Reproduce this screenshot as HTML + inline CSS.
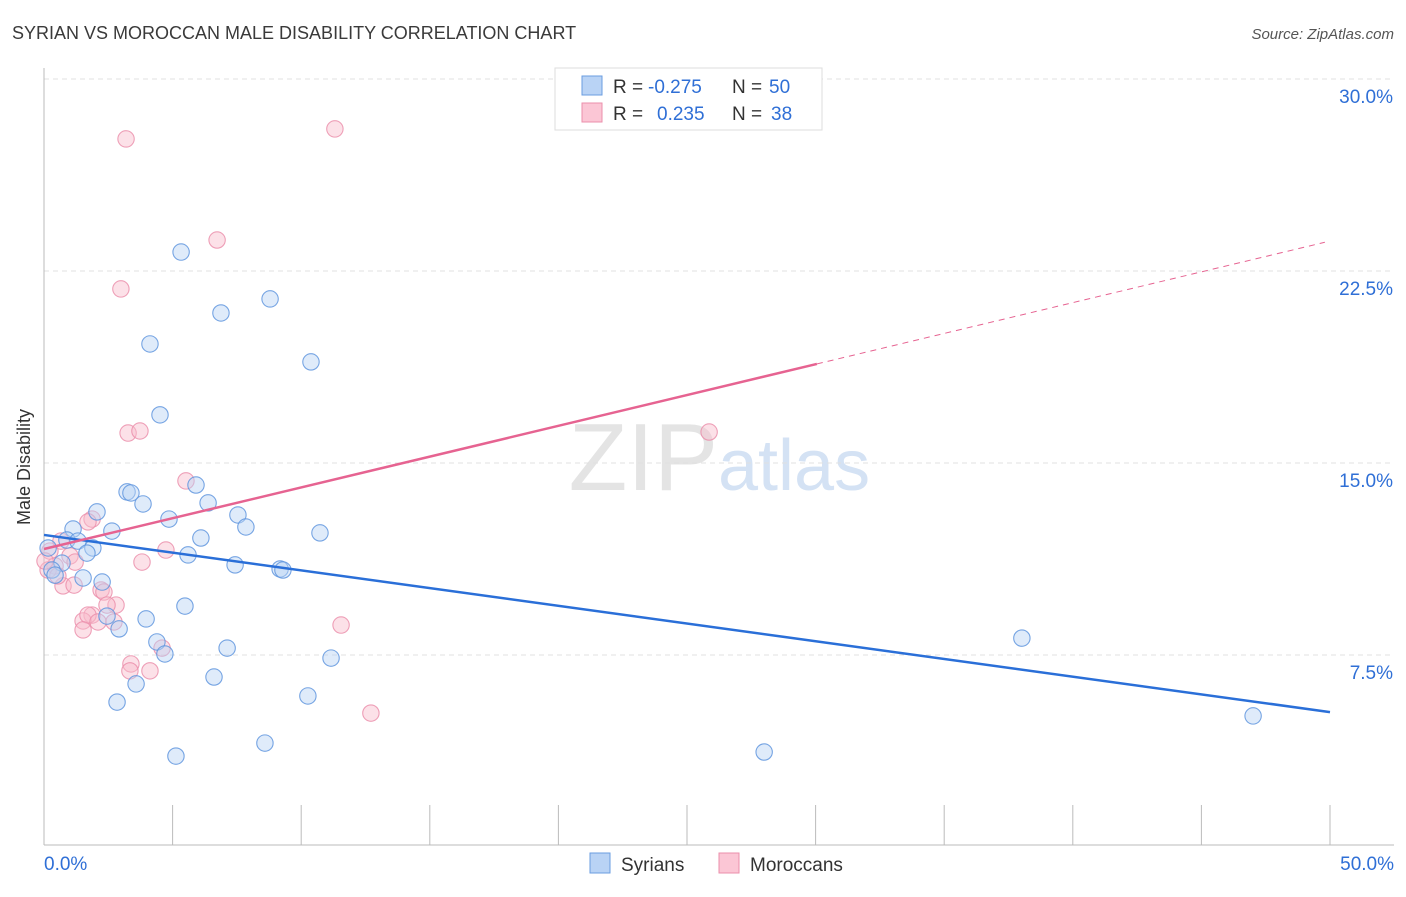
<!DOCTYPE html>
<html><head><meta charset="utf-8"><style>
body{margin:0;background:#fff;font-family:"Liberation Sans",sans-serif;}
svg text{font-family:"Liberation Sans",sans-serif;}
</style></head><body>
<svg width="1406" height="892" viewBox="0 0 1406 892" xmlns="http://www.w3.org/2000/svg">
<text x="12" y="39" font-size="18" fill="#3a3a3a">SYRIAN VS MOROCCAN MALE DISABILITY CORRELATION CHART</text>
<text x="1394" y="39" font-size="15" fill="#555" font-style="italic" text-anchor="end">Source: ZipAtlas.com</text>
<text x="718" y="490" font-size="96" fill="#e4e4e4" text-anchor="end" font-family="Liberation Serif">ZIP</text>
<text x="718" y="490" font-size="72" fill="#d4e2f4">atlas</text>
<g id="grid"></g>
<g id="axes"></g>
<g id="pts"></g>
<g id="trend"></g>
<text x="18" y="455" font-size="18" fill="#333" transform="rotate(-90 30 455)" text-anchor="middle">Male Disability</text>
<g>
<rect x="555" y="68" width="267" height="62" fill="#fff" stroke="#ddd"/>
<rect x="582" y="76" width="20" height="19" fill="#b9d3f5" stroke="#6a9de0"/>
<rect x="582" y="103" width="20" height="19" fill="#fbc6d5" stroke="#eb8fab"/>
<text y="93" font-size="19" fill="#333"><tspan x="613">R =</tspan><tspan x="648" fill="#2f6fd6">-0.275</tspan><tspan x="732">N =</tspan><tspan x="769" fill="#2f6fd6">50</tspan></text>
<text y="120" font-size="19" fill="#333"><tspan x="613">R =</tspan><tspan x="657" fill="#2f6fd6">0.235</tspan><tspan x="732">N =</tspan><tspan x="771" fill="#2f6fd6">38</tspan></text>
</g>
<g>
<rect x="590" y="853" width="20" height="20" fill="#b9d3f5" stroke="#6a9de0"/>
<text x="621" y="871" font-size="19" fill="#333">Syrians</text>
<rect x="719" y="853" width="20" height="20" fill="#fbc6d5" stroke="#eb8fab"/>
<text x="750" y="871" font-size="19" fill="#333">Moroccans</text>
</g>
</svg>
<script>
const yTicks=[7.5,15,22.5,30];
const yTickLabels=["7.5%","15.0%","22.5%","30.0%"];
const xTicks=[0,5,10,15,20,25,30,35,40,45,50];
const xTickLabels=["0.0%","50.0%"];
const syriansX=[5.33,8.79,6.88,4.12,10.38,4.51,3.23,3.38,5.91,3.85,6.38,2.06,4.86,7.54,1.13,2.64,7.85,10.73,0.89,1.32,6.1,1.9,1.67,5.6,7.43,9.18,9.29,0.7,0.31,0.43,1.52,2.26,5.48,3.97,2.45,2.92,4.39,4.7,7.12,11.16,6.61,3.58,10.26,2.84,8.59,5.13,28.0,38.02,47.01,0.16];
const syriansY=[23.24,21.41,20.86,19.65,18.95,16.88,13.87,13.83,14.14,13.4,13.44,13.09,12.81,12.97,12.42,12.34,12.5,12.27,11.99,11.95,12.07,11.68,11.48,11.41,11.02,10.86,10.82,11.09,10.82,10.62,10.51,10.35,9.41,8.91,9.02,8.52,8.01,7.54,7.77,7.38,6.64,6.37,5.9,5.66,4.06,3.55,3.71,8.16,5.12,11.68];
const moroccansX=[3.19,11.31,6.73,2.99,3.27,3.73,5.52,25.86,1.87,1.71,0.66,1.01,1.21,4.74,3.81,0.23,0.43,0.16,0.74,1.17,2.22,2.33,2.8,2.45,1.87,1.52,1.71,2.1,1.52,2.72,4.59,3.38,3.34,4.12,11.55,12.71,0.04,0.54];
const moroccansY=[27.66,28.05,23.71,21.8,16.17,16.25,14.3,16.21,12.81,12.7,11.95,11.37,11.13,11.6,11.13,11.56,10.98,10.82,10.2,10.23,10.04,9.96,9.45,9.45,9.06,8.83,9.06,8.79,8.48,8.79,7.77,7.15,6.88,6.88,8.67,5.23,11.17,10.59];
const syrTrend=[12.19,5.27];
const morTrend=[11.64,23.67];
const morSolidEnd=30.05;
const X=v=>44+v*25.72, Y=v=>847-v*25.6;
const NS="http://www.w3.org/2000/svg";
function mk(t,a,p){const e=document.createElementNS(NS,t);for(const k in a)e.setAttribute(k,a[k]);p.appendChild(e);return e;}
const grid=document.getElementById('grid'),axes=document.getElementById('axes'),pts=document.getElementById('pts'),tr=document.getElementById('trend');
yTicks.forEach((t,i)=>{
 const l=mk('line',{x1:44,x2:1394,y1:Y(t),y2:Y(t),stroke:'#e0e0e0','stroke-dasharray':'5,4'},grid);
 
 
 const tx=mk('text',{x:1393,y:Y(t)+24,'font-size':19,fill:'#2f6fd6','text-anchor':'end'},axes);
 tx.textContent=yTickLabels[i];
 
 
});
const la=mk('line',{x1:44,x2:44,y1:68,y2:845,stroke:'#bbb'},axes);


const ba=mk('line',{x1:44,x2:1394,y1:845,y2:845,stroke:'#bbb'},axes);


xTicks.forEach(t=>{
 const l=mk('line',{x1:X(t),x2:X(t),y1:805,y2:845,stroke:'#bbb'},axes);
 
 
});
const t0=mk('text',{x:44,y:870,'font-size':19,fill:'#2f6fd6'},axes);t0.textContent=xTickLabels[0];


const t1=mk('text',{x:1394,y:870,'font-size':19,fill:'#2f6fd6','text-anchor':'end'},axes);t1.textContent=xTickLabels[1];


function dots(xs,ys,fill,stroke,name){xs.forEach((x,i)=>{
 const c=mk('circle',{cx:X(x),cy:Y(ys[i]),r:8.2,fill:fill,'fill-opacity':0.45,stroke:stroke,'stroke-width':1.1,'stroke-opacity':0.85},pts);
 
 
});}
dots(moroccansX,moroccansY,'#f8bccd','#eb8fab','moroccan-point');
dots(syriansX,syriansY,'#b9d3f5','#5f95de','syrian-point');
const sl=mk('line',{x1:X(0),y1:Y(syrTrend[0]),x2:X(50),y2:Y(syrTrend[1]),stroke:'#2a6fd8','stroke-width':2.5},tr);


const my=x=>morTrend[0]+(morTrend[1]-morTrend[0])*x/50;
const ml=mk('line',{x1:X(0),y1:Y(my(0)),x2:X(morSolidEnd),y2:Y(my(morSolidEnd)),stroke:'#e66391','stroke-width':2.5},tr);


const md=mk('line',{x1:X(morSolidEnd),y1:Y(my(morSolidEnd)),x2:X(49.8),y2:Y(my(49.8)),stroke:'#e66391','stroke-width':1,'stroke-dasharray':'6,5'},tr);


</script>
</body></html>
